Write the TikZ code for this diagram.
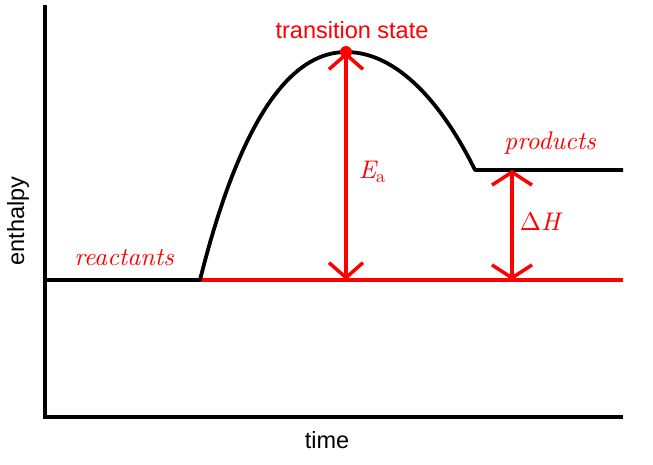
\documentclass[tikz,border=0pt]{standalone}
\usepackage{fontspec}
\newfontfamily\labsans{Liberation Sans}
\newfontfamily\lmten{lmroman10-italic.otf}
\newfontfamily\lmtenup{lmroman10-regular.otf}
\usetikzlibrary{arrows.meta}
\begin{document}
\begin{tikzpicture}[x=1pt,y=-1pt,
  axis/.style={line width=4pt},
  curve/.style={line width=3.8pt},
  redline/.style={red,line width=3.5pt},
  ea/.style={redline,{Straight Barb[length=15pt,width=34pt]}-{Straight Barb[length=15pt,width=34pt]}},
  dh/.style={redline,{Straight Barb[length=13pt,width=40pt]}-{Straight Barb[length=13pt,width=40pt]}},
  sanslab/.style={font=\labsans\fontsize{23.5}{28}\selectfont},
  itlab/.style={red,font=\lmten\fontsize{25.5}{30}\selectfont},
  mathlab/.style={red,font=\fontsize{25.5}{30}\selectfont}]
\useasboundingbox (0,0) rectangle (653,464);
% coordinates
\coordinate (top) at (45,5);
\coordinate (origin) at (45,417);
\coordinate (xend) at (623,417);
\coordinate (rstart) at (45,280);
\coordinate (rend) at (200,280);
\coordinate (peak) at (346,52);
\coordinate (pstart) at (475,170);
\coordinate (pend) at (623,170);
\coordinate (baseend) at (623,280);
\coordinate (eabot) at (346,280);
\coordinate (dhtop) at (512,170);
\coordinate (dhbot) at (512,280);
% axes
\draw[axis] (top) -- (origin) -- (xend);
% red baseline
\draw[redline] (rend) -- (baseend);
% energy profile
\draw[curve,line join=round] (rstart) -- (rend)
  .. controls (240,120) and (290,52) .. (peak)
  .. controls (398,52) and (443,105) .. (pstart) -- (pend);
% arrows
\draw[ea] (eabot) -- (peak);
\draw[dh] (dhbot) -- (dhtop);
\fill[red] (peak) circle (6pt);
% labels
\node[sanslab,red] (ts) at (352,30) {transition state};
\node[itlab] (prod) at (550,143) {products};
\node[itlab] (react) at (124,258) {reactants};
\node[mathlab] (ealab) at (372,172) {{\lmten E}\raisebox{-4pt}{\lmtenup\fontsize{18}{20}\selectfont a}};
\node[mathlab] (dhlab) at (540,221) {{\lmtenup Δ}{\lmten H}};
\node[sanslab,rotate=90] (ylab) at (18,221) {enthalpy};
\node[sanslab] (xlab) at (327,440) {time};
\end{tikzpicture}
\end{document}
